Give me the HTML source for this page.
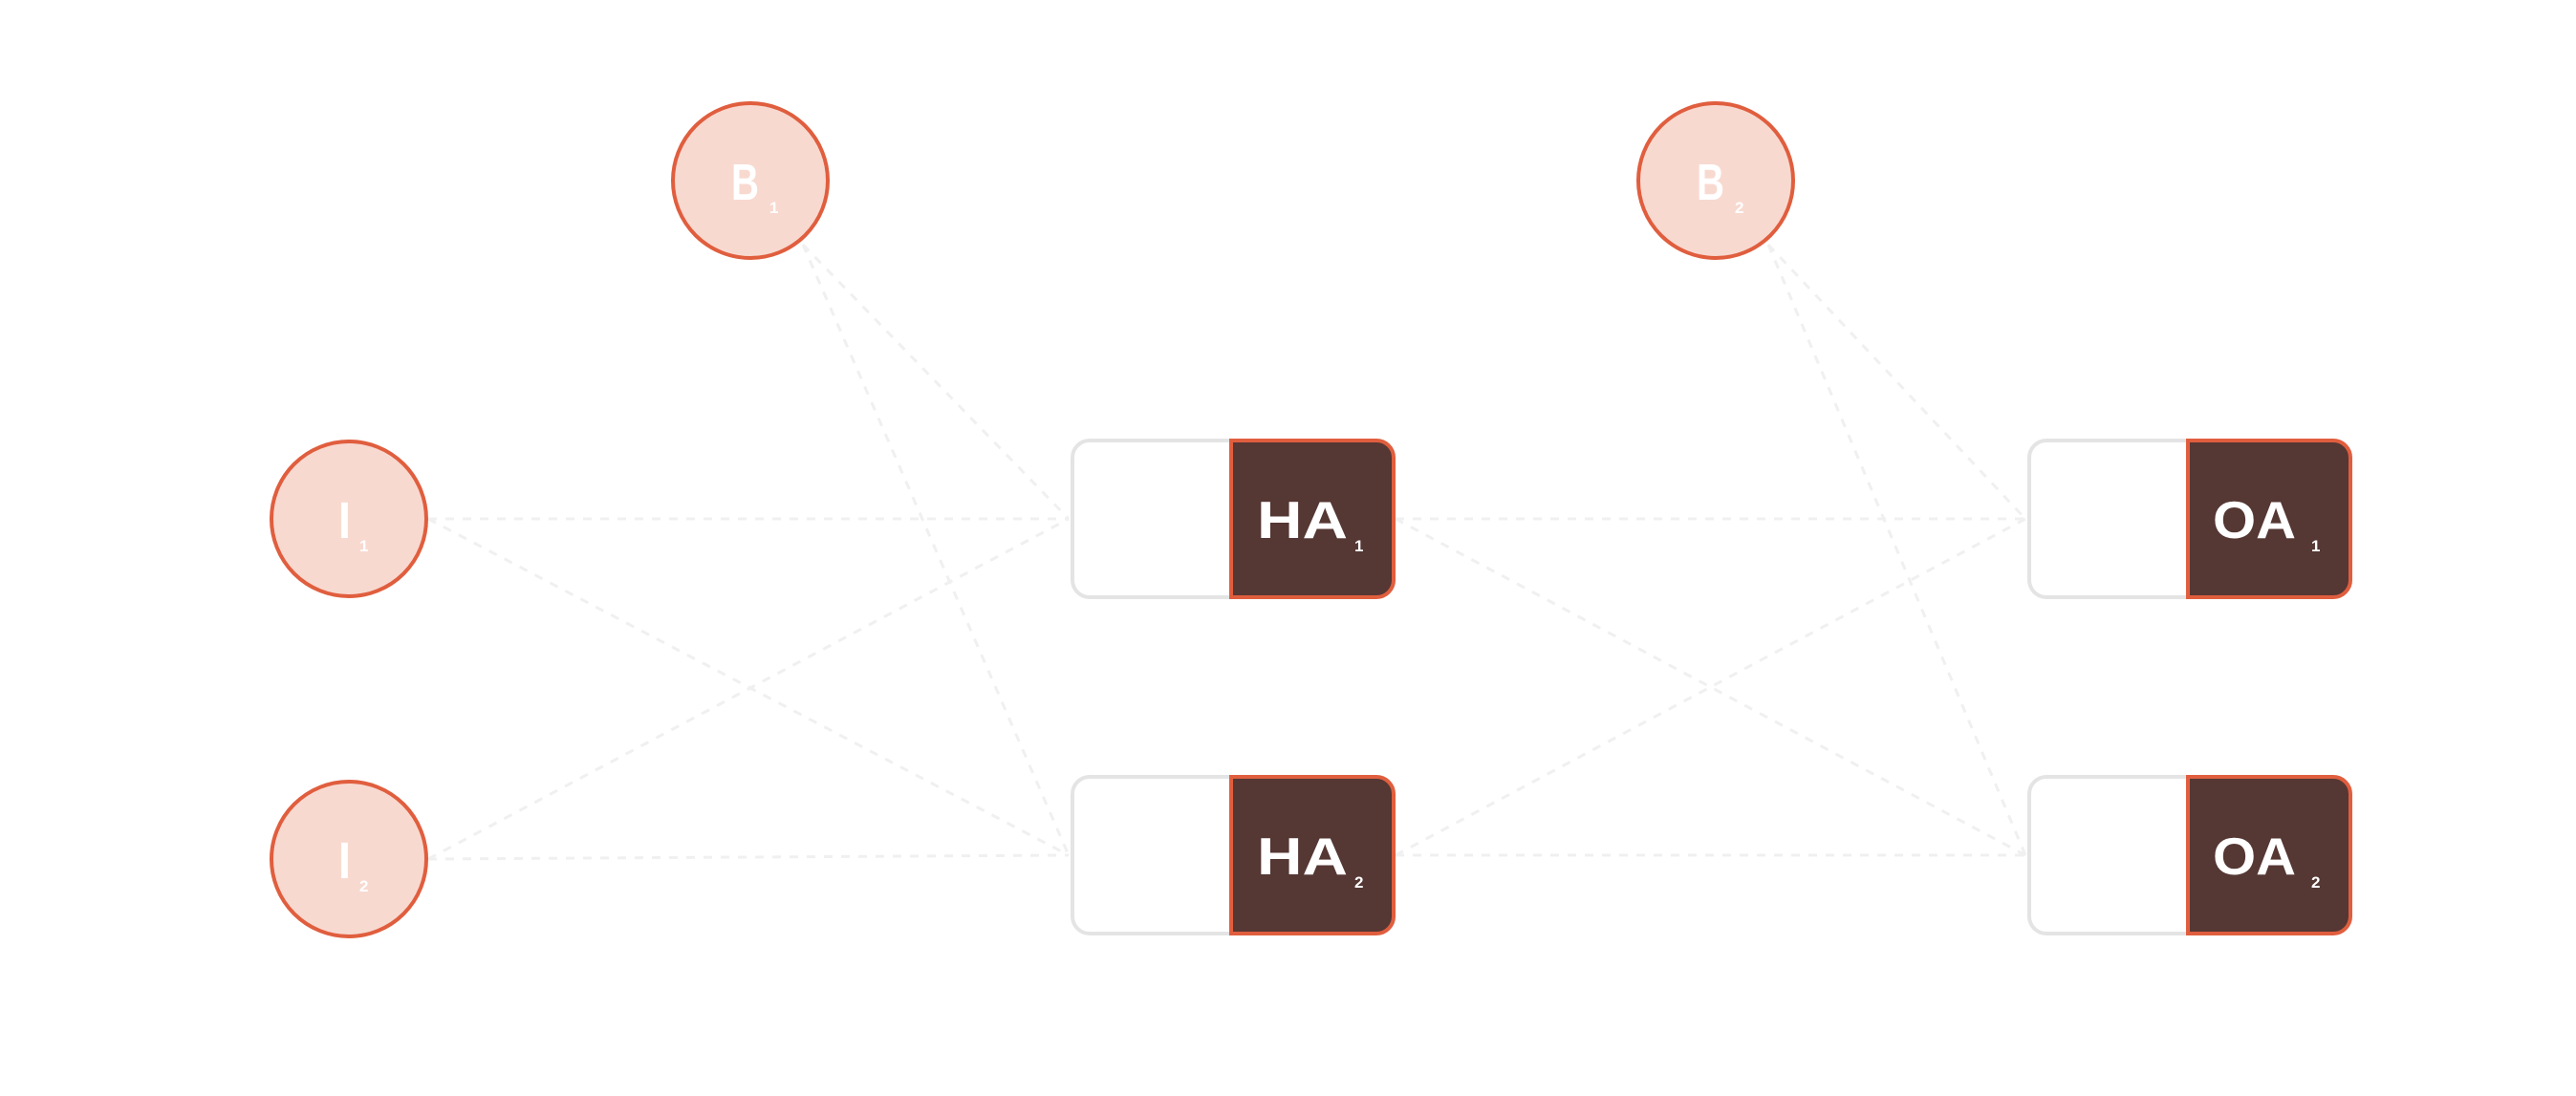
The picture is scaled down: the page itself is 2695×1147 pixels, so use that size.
<!DOCTYPE html>
<html><head><style>
html,body{margin:0;padding:0;background:#fff;}
svg{display:block;}
text{font-family:"Liberation Sans",sans-serif;font-weight:bold;fill:#fff;}
</style></head><body>
<svg width="2695" height="1147" viewBox="0 0 2695 1147" xmlns="http://www.w3.org/2000/svg">
<g stroke="#f0f0f0" stroke-width="3" stroke-dasharray="9 9" fill="none">
<line x1="448" y1="543" x2="1118" y2="543"/>
<line x1="448" y1="543" x2="1118" y2="895"/>
<line x1="448" y1="899" x2="1118" y2="543"/>
<line x1="448" y1="899" x2="1118" y2="895"/>
<line x1="840" y1="256" x2="1118" y2="543"/>
<line x1="840" y1="256" x2="1118" y2="895"/>
<line x1="1460" y1="543" x2="2119" y2="543"/>
<line x1="1460" y1="543" x2="2119" y2="895"/>
<line x1="1460" y1="895" x2="2119" y2="543"/>
<line x1="1460" y1="895" x2="2119" y2="895"/>
<line x1="1850" y1="256" x2="2119" y2="543"/>
<line x1="1850" y1="256" x2="2119" y2="895"/>
</g>
<g fill="#f8d9d0" stroke="#e05e3e" stroke-width="4">
<circle cx="365" cy="543" r="81"/>
<circle cx="365" cy="899" r="81"/>
<circle cx="785" cy="189" r="81"/>
<circle cx="1795" cy="189" r="81"/>
</g>
<g font-size="54">
<text x="354" y="563" textLength="13" lengthAdjust="spacingAndGlyphs">I</text><text x="376" y="577" font-size="17">1</text>
<text x="354" y="919" textLength="13" lengthAdjust="spacingAndGlyphs">I</text><text x="376" y="933" font-size="17">2</text>
<text x="765" y="209" textLength="29" lengthAdjust="spacingAndGlyphs">B</text><text x="805" y="223" font-size="17">1</text>
<text x="1775" y="209" textLength="29" lengthAdjust="spacingAndGlyphs">B</text><text x="1815" y="223" font-size="17">2</text>
</g>
<g>
<rect x="1122" y="461" width="336" height="164" rx="18" fill="#fff" stroke="#e4e4e4" stroke-width="4"/>
<path d="M1288 461 H1440 A18 18 0 0 1 1458 479 V607 A18 18 0 0 1 1440 625 H1288 Z" fill="#553733" stroke="#e05e3e" stroke-width="4"/>
<rect x="1122" y="813" width="336" height="164" rx="18" fill="#fff" stroke="#e4e4e4" stroke-width="4"/>
<path d="M1288 813 H1440 A18 18 0 0 1 1458 831 V959 A18 18 0 0 1 1440 977 H1288 Z" fill="#553733" stroke="#e05e3e" stroke-width="4"/>
<rect x="2123" y="461" width="336" height="164" rx="18" fill="#fff" stroke="#e4e4e4" stroke-width="4"/>
<path d="M2289 461 H2441 A18 18 0 0 1 2459 479 V607 A18 18 0 0 1 2441 625 H2289 Z" fill="#553733" stroke="#e05e3e" stroke-width="4"/>
<rect x="2123" y="813" width="336" height="164" rx="18" fill="#fff" stroke="#e4e4e4" stroke-width="4"/>
<path d="M2289 813 H2441 A18 18 0 0 1 2459 831 V959 A18 18 0 0 1 2441 977 H2289 Z" fill="#553733" stroke="#e05e3e" stroke-width="4"/>
</g>
<g font-size="55">
<text x="1315" y="563" textLength="95" lengthAdjust="spacingAndGlyphs">HA</text><text x="1417" y="577" font-size="17">1</text>
<text x="1315" y="915" textLength="95" lengthAdjust="spacingAndGlyphs">HA</text><text x="1417" y="929" font-size="17">2</text>
<text x="2315" y="563" textLength="87" lengthAdjust="spacingAndGlyphs">OA</text><text x="2418" y="577" font-size="17">1</text>
<text x="2315" y="915" textLength="87" lengthAdjust="spacingAndGlyphs">OA</text><text x="2418" y="929" font-size="17">2</text>
</g>
</svg>
</body></html>
